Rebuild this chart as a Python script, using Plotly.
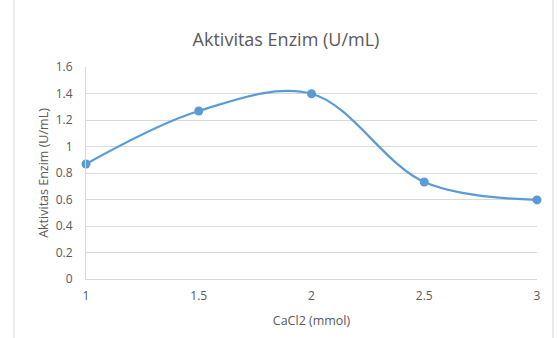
import plotly.graph_objects as go

cacl2 = [1, 1.5, 2, 2.5, 3]
aktivitas = [0.868, 1.268, 1.398, 0.732, 0.597]
x_ticks = [1, 1.5, 2, 2.5, 3]
y_ticks = [0, 0.2, 0.4, 0.6, 0.8, 1, 1.2, 1.4, 1.6]

W, H = 557, 338
L, R, T, B = 86, 20, 67, 59
pw = W - L - R

fig = go.Figure()
fig.add_trace(go.Scatter(
    x=cacl2, y=aktivitas, mode="lines+markers",
    line=dict(color="#5B9BD5", width=2.25, shape="spline", smoothing=1),
    marker=dict(color="#5B9BD5", size=9),
    cliponaxis=False, showlegend=False,
))

font = "Open Sans, Liberation Sans, sans-serif"
fig.update_layout(
    width=W, height=H,
    margin=dict(l=L, r=R, t=T, b=B),
    paper_bgcolor="white", plot_bgcolor="white",
    font=dict(family=font, color="#595959", size=12),
    title=dict(text="Aktivitas Enzim (U/mL)", x=286 / W, xanchor="center",
               y=1 - 40 / H, yanchor="middle",
               font=dict(size=18, color="#595959", family=font)),
    xaxis=dict(range=[1, 3], tickvals=x_ticks, ticktext=[str(v) for v in x_ticks],
               showgrid=False, zeroline=False, showline=True, linecolor="#D9D9D9",
               linewidth=1, ticks="", ticklabelstandoff=6,
               title=dict(text="CaCl2 (mmol)", font=dict(size=12.5), standoff=12)),
    yaxis=dict(range=[0, 1.6], tickvals=y_ticks, ticktext=[f"{v:g}" for v in y_ticks],
               showgrid=True, gridcolor="#D9D9D9", gridwidth=1, zeroline=False,
               showline=True, linecolor="#D9D9D9", ticks="", ticklabelstandoff=10,
               title=dict(text="Aktivitas Enzim (U/mL)", font=dict(size=12.5), standoff=4)),
    shapes=[
        dict(type="line", xref="paper", yref="paper", x0=(14 - L) / pw, x1=(14 - L) / pw,
             y0=-1, y1=2, line=dict(color="#D9D9D9", width=1)),
        dict(type="line", xref="paper", yref="paper", x0=(553 - L) / pw, x1=(553 - L) / pw,
             y0=-1, y1=2, line=dict(color="#D9D9D9", width=1)),
    ],
)

fig.write_html("out.html")
